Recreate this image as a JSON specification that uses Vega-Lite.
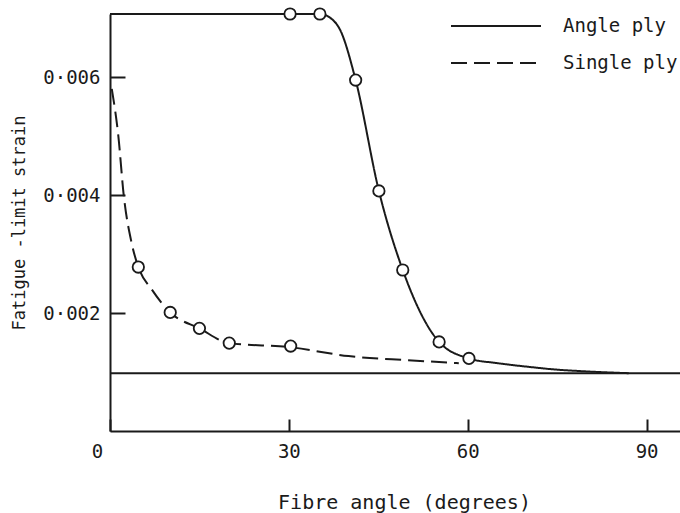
{
  "$schema": "https://vega.github.io/schema/vega-lite/v6.json",
  "width": 570,
  "height": 417,
  "autosize": {"type": "none"},
  "padding": {"left": 110, "top": 14, "right": 0, "bottom": 82},
  "background": "white",
  "config": {
    "view": {"stroke": null},
    "font": "DejaVu Sans Mono",
    "axis": {
      "domainColor": "#1a1a1a",
      "domainWidth": 2,
      "tickColor": "#1a1a1a",
      "tickWidth": 2,
      "grid": false,
      "labelColor": "#1a1a1a",
      "titleColor": "#1a1a1a",
      "labelFont": "DejaVu Sans Mono",
      "titleFont": "DejaVu Sans Mono",
      "labelFontSize": 19,
      "titleFontSize": 19,
      "titleFontWeight": "normal"
    }
  },
  "datasets": {
    "curves": [
      {"series": "Angle ply", "angle": 0, "strain": 0.00707},
      {"series": "Angle ply", "angle": 30, "strain": 0.00707},
      {"series": "Angle ply", "angle": 35.2, "strain": 0.00707},
      {"series": "Angle ply", "angle": 37, "strain": 0.00700},
      {"series": "Angle ply", "angle": 38.6, "strain": 0.00680},
      {"series": "Angle ply", "angle": 41.2, "strain": 0.00595},
      {"series": "Angle ply", "angle": 45.1, "strain": 0.00407},
      {"series": "Angle ply", "angle": 49.1, "strain": 0.00273},
      {"series": "Angle ply", "angle": 55.2, "strain": 0.00151},
      {"series": "Angle ply", "angle": 60.2, "strain": 0.00123},
      {"series": "Angle ply", "angle": 65, "strain": 0.00115},
      {"series": "Angle ply", "angle": 70, "strain": 0.00109},
      {"series": "Angle ply", "angle": 75, "strain": 0.00104},
      {"series": "Angle ply", "angle": 80, "strain": 0.00101},
      {"series": "Angle ply", "angle": 87, "strain": 0.00098},
      {"series": "Single ply", "angle": 0.3, "strain": 0.0058},
      {"series": "Single ply", "angle": 1.4, "strain": 0.0050},
      {"series": "Single ply", "angle": 2.3, "strain": 0.0040},
      {"series": "Single ply", "angle": 3.6, "strain": 0.0032},
      {"series": "Single ply", "angle": 4.75, "strain": 0.00278},
      {"series": "Single ply", "angle": 7, "strain": 0.0024},
      {"series": "Single ply", "angle": 10.1, "strain": 0.00201},
      {"series": "Single ply", "angle": 15, "strain": 0.00174},
      {"series": "Single ply", "angle": 20, "strain": 0.00149},
      {"series": "Single ply", "angle": 30.3, "strain": 0.00142},
      {"series": "Single ply", "angle": 40, "strain": 0.00127},
      {"series": "Single ply", "angle": 50, "strain": 0.00120},
      {"series": "Single ply", "angle": 58.5, "strain": 0.00115}
    ],
    "points": [
      {"series": "Angle ply", "angle": 30.2, "strain": 0.00707},
      {"series": "Angle ply", "angle": 35.2, "strain": 0.00707},
      {"series": "Angle ply", "angle": 41.2, "strain": 0.00595},
      {"series": "Angle ply", "angle": 45.1, "strain": 0.00407},
      {"series": "Angle ply", "angle": 49.1, "strain": 0.00273},
      {"series": "Angle ply", "angle": 55.2, "strain": 0.00151},
      {"series": "Angle ply", "angle": 60.2, "strain": 0.00123},
      {"series": "Single ply", "angle": 4.75, "strain": 0.00278},
      {"series": "Single ply", "angle": 10.1, "strain": 0.00201},
      {"series": "Single ply", "angle": 15, "strain": 0.00174},
      {"series": "Single ply", "angle": 20, "strain": 0.00149},
      {"series": "Single ply", "angle": 30.3, "strain": 0.00144}
    ],
    "base": [
      {"angle": 0, "strain": 0.00098},
      {"angle": 95.6, "strain": 0.00098}
    ]
  },
  "layer": [
    {
      "data": {"name": "base"},
      "mark": {"type": "line", "color": "#1a1a1a", "strokeWidth": 2},
      "encoding": {
        "x": {"field": "angle", "type": "quantitative", "scale": {"domain": [0, 95.6], "nice": false},
          "axis": {"values": [0, 30, 60, 90], "tickSize": -12, "labelPadding": 23, "labelFlush": false,
            "labelOffset": {"condition": {"test": "datum.value == 0", "value": -13}, "value": 0},
            "title": "Fibre  angle (degrees)", "titleFontSize": 20, "titleX": 294, "titleAlign": "center", "titlePadding": 31}},
        "y": {"field": "strain", "type": "quantitative", "scale": {"domain": [0, 0.00707], "nice": false},
          "axis": {"values": [0.002, 0.004, 0.006], "tickSize": -15, "labelPadding": 25, "labelExpr": "replace(format(datum.value, '.3f'), '.', '·')", "title": "Fatigue -limit  strain", "titleFontSize": 17, "titlePadding": 14}}
      }
    },
    {
      "data": {"name": "curves"},
      "mark": {"type": "line", "color": "#1a1a1a", "strokeWidth": 2, "interpolate": "monotone"},
      "encoding": {
        "x": {"field": "angle", "type": "quantitative"},
        "y": {"field": "strain", "type": "quantitative"},
        "strokeDash": {
          "field": "series",
          "type": "nominal",
          "scale": {"domain": ["Angle ply", "Single ply"], "range": [[1, 0], [16, 7]]},
          "legend": {
            "title": null,
            "orient": "none",
            "legendX": 370,
            "legendY": -4,
            "padding": 0,
            "symbolType": "M-3,0H3",
            "symbolSize": 900,
            "symbolStrokeWidth": 2,
            "symbolStrokeColor": "#1a1a1a",
            "symbolFillColor": "transparent",
            "labelFont": "DejaVu Sans Mono",
            "labelFontSize": 19,
            "labelColor": "#1a1a1a",
            "labelOffset": 51,
            "rowPadding": 11
          }
        }
      }
    },
    {
      "data": {"name": "points"},
      "mark": {"type": "point", "shape": "circle", "filled": true, "fill": "white", "stroke": "#1a1a1a", "strokeWidth": 1.8, "size": 130, "opacity": 1},
      "encoding": {
        "x": {"field": "angle", "type": "quantitative"},
        "y": {"field": "strain", "type": "quantitative"}
      }
    }
  ]
}
